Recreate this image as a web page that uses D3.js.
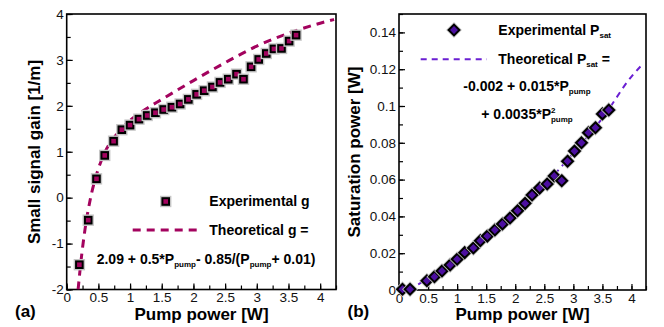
<!DOCTYPE html>
<html>
<head>
<meta charset="utf-8">
<script src="https://cdn.jsdelivr.net/npm/d3@7"></script>
<style>
  body { margin: 0; background: #fff; }
  svg { display: block; font-family: "Liberation Sans", Arial, sans-serif; }
</style>
</head>
<body>
<div id="chart-area"></div>
<script>
// (a) small signal gain
const pumpG = [0.20, 0.34, 0.47, 0.60, 0.74, 0.87, 1.00, 1.14, 1.27, 1.40, 1.53, 1.66, 1.79, 1.92,
               2.05, 2.17, 2.30, 2.42, 2.55, 2.68, 2.79, 2.91, 3.03, 3.15, 3.27, 3.39, 3.51, 3.62];
const gainExp = [-1.46, -0.49, 0.41, 0.92, 1.23, 1.48, 1.58, 1.71, 1.79, 1.85, 1.92, 1.97, 2.04, 2.14,
                 2.25, 2.33, 2.41, 2.51, 2.58, 2.69, 2.58, 2.85, 3.01, 3.14, 3.24, 3.25, 3.41, 3.54];
const pumpGFit = [0.18, 0.22, 0.29, 0.37, 0.47, 0.60, 0.80, 1.00, 1.25, 1.50, 2.00, 2.50, 3.00, 3.50, 4.00, 4.22];
const gainFit = [-2.0, -1.45, -0.68, -0.05, 0.50, 0.98, 1.40, 1.68, 1.93, 2.14, 2.55, 2.94, 3.30, 3.58, 3.80, 3.88];

// (b) saturation power
const pumpP = [0.06, 0.19, 0.48, 0.61, 0.74, 0.88, 1.00, 1.13, 1.28, 1.40, 1.52, 1.65, 1.78, 1.91,
               2.04, 2.17, 2.29, 2.42, 2.55, 2.67, 2.80, 2.90, 3.02, 3.14, 3.26, 3.38, 3.50, 3.61];
const psatExp = [0.0004, 0.0004, 0.0050, 0.0072, 0.0103, 0.0136, 0.0167, 0.0203, 0.0228, 0.0268, 0.0293, 0.0326, 0.0359, 0.0391,
                 0.0431, 0.0471, 0.0516, 0.0554, 0.0576, 0.0620, 0.0594, 0.0700, 0.0755, 0.0800, 0.0855, 0.0882, 0.0957, 0.0978];
const pumpPFit = [0.33, 0.50, 1.00, 1.50, 2.00, 2.50, 3.00, 3.50, 4.00, 4.17];
const psatFit = [0.003, 0.0064, 0.0165, 0.0304, 0.0420, 0.0569, 0.0745, 0.0934, 0.1160, 0.1220];

const xTicks = [0, 0.5, 1, 1.5, 2, 2.5, 3, 3.5, 4];
const gTicks = [-2, -1, 0, 1, 2, 3, 4];
const pTicks = [0, 0.02, 0.04, 0.06, 0.08, 0.1, 0.12, 0.14];

const gainColor = "#a3035e";
const psatColor = "#4c0fa0";
const psatLine = "#6a1fd2";

const width = 664, height = 327;

const svg = d3.select("#chart-area")
    .append("svg")
    .attr("width", width)
    .attr("height", height);

const xA = d3.scaleLinear().domain([0, 4.25]).range([66.7, 336]);
const yA = d3.scaleLinear().domain([-2, 4]).range([289.5, 14]);
const xB = d3.scaleLinear().domain([0, 4.25]).range([399, 646]);
const yB = d3.scaleLinear().domain([0, 0.15]).range([290, 14]);

function drawFrame(x, y, xMinor, yMinor, yMajor, yFmt, clipId) {
    const [x0, x1] = x.range();
    const [y0, y1] = y.range();

    svg.append("clipPath").attr("id", clipId)
        .append("rect")
        .attr("x", x0).attr("y", y1)
        .attr("width", x1 - x0).attr("height", y0 - y1);

    // minor ticks (no labels)
    svg.append("g")
        .attr("transform", `translate(0,${y0})`)
        .call(d3.axisBottom(x).tickValues(xMinor).tickSize(-4))
        .call(g => g.select(".domain").remove())
        .call(g => g.selectAll("text").remove());
    svg.append("g")
        .attr("transform", `translate(${x0},0)`)
        .call(d3.axisLeft(y).tickValues(yMinor).tickSize(-4))
        .call(g => g.select(".domain").remove())
        .call(g => g.selectAll("text").remove());

    // major ticks + labels
    svg.append("g")
        .attr("class", "tick-labels")
        .attr("transform", `translate(0,${y0})`)
        .call(d3.axisBottom(x).tickValues(xTicks).tickSize(-6).tickPadding(3).tickFormat(d => String(d)))
        .call(g => g.select(".domain").remove());
    svg.append("g")
        .attr("class", "tick-labels")
        .attr("transform", `translate(${x0},0)`)
        .call(d3.axisLeft(y).tickValues(yMajor).tickSize(-6).tickPadding(3).tickFormat(yFmt))
        .call(g => g.select(".domain").remove());

    svg.selectAll(".tick line").attr("stroke", "#000").attr("stroke-width", 1.2);

    svg.append("rect")
        .attr("x", x0).attr("y", y1)
        .attr("width", x1 - x0).attr("height", y0 - y1)
        .attr("fill", "none")
        .attr("stroke", "#000")
        .attr("stroke-width", 1.6);
}

const minorX = d3.range(0, 4.26, 0.25);
drawFrame(xA, yA, minorX, d3.range(-2, 4.01, 0.5), gTicks, d => String(d), "clipA");
drawFrame(xB, yB, minorX, d3.range(0, 0.1501, 0.01), pTicks, d => String(+d.toFixed(2)), "clipB");

svg.selectAll(".tick-labels text")
    .attr("font-size", "13.5px")
    .attr("font-family", "'Liberation Sans', Arial, sans-serif")
    .attr("fill", "#111");

// ---- panel (a) ----
const lineA = d3.line()
    .x(d => xA(d[0]))
    .y(d => yA(d[1]))
    .curve(d3.curveMonotoneX);

svg.append("path")
    .datum(pumpGFit.map((p, i) => [p, gainFit[i]]))
    .attr("clip-path", "url(#clipA)")
    .attr("d", lineA)
    .attr("fill", "none")
    .attr("stroke", gainColor)
    .attr("stroke-width", 3)
    .attr("stroke-dasharray", "8,6");

function square(sel, cx, cy) {
    sel.append("rect")
        .attr("x", cx - 4.4).attr("y", cy - 4.4)
        .attr("width", 8.8).attr("height", 8.8)
        .attr("fill", "none")
        .attr("stroke", "#c6c6c6")
        .attr("stroke-width", 2.6);
    sel.append("rect")
        .attr("x", cx - 3.3).attr("y", cy - 3.3)
        .attr("width", 6.6).attr("height", 6.6)
        .attr("fill", gainColor)
        .attr("stroke", "#000")
        .attr("stroke-width", 2);
}

const sq = svg.append("g");
pumpG.forEach((p, i) => square(sq, xA(p), yA(gainExp[i])));

// legend (a)
const bold = "bold";
square(svg.append("g"), 165.7, 201.5);
svg.append("text")
    .attr("x", 209.3).attr("y", 205.7)
    .attr("font-size", "14px").attr("font-weight", bold)
    .text("Experimental g");

svg.append("line")
    .attr("x1", 132.7).attr("x2", 200)
    .attr("y1", 230).attr("y2", 230)
    .attr("stroke", gainColor)
    .attr("stroke-width", 3)
    .attr("stroke-dasharray", "8,6");
svg.append("text")
    .attr("x", 209.3).attr("y", 234.5)
    .attr("font-size", "14px").attr("font-weight", bold)
    .text("Theoretical g =");

const fA = svg.append("text")
    .attr("x", 96.7).attr("y", 264)
    .attr("font-size", "14px").attr("font-weight", bold);
fA.append("tspan").text("2.09 + 0.5*P");
fA.append("tspan").attr("font-size", "8px").attr("dy", 3).text("pump");
fA.append("tspan").attr("dy", -3).text("- 0.85/(P");
fA.append("tspan").attr("font-size", "8px").attr("dy", 3).text("pump");
fA.append("tspan").attr("dy", -3).text("+ 0.01)");

// ---- panel (b) ----
svg.append("path")
    .datum(pumpPFit.map((p, i) => [p, psatFit[i]]))
    .attr("clip-path", "url(#clipB)")
    .attr("d", d3.line().x(d => xB(d[0])).y(d => yB(d[1])).curve(d3.curveMonotoneX))
    .attr("fill", "none")
    .attr("stroke", psatLine)
    .attr("stroke-width", 2)
    .attr("stroke-dasharray", "6,5");

function diamond(sel, cx, cy) {
    const r = 5.4;
    const pts = `${cx},${cy - r} ${cx + r},${cy} ${cx},${cy + r} ${cx - r},${cy}`;
    sel.append("polygon")
        .attr("points", pts)
        .attr("fill", "none")
        .attr("stroke", "#c6c6c6")
        .attr("stroke-width", 3.6);
    sel.append("polygon")
        .attr("points", pts)
        .attr("fill", psatColor)
        .attr("stroke", "#000")
        .attr("stroke-width", 2);
}

const dm = svg.append("g");
pumpP.forEach((p, i) => diamond(dm, xB(p), yB(psatExp[i])));

// legend (b)
diamond(svg.append("g"), 454, 30);
const eB = svg.append("text")
    .attr("x", 498.3).attr("y", 35)
    .attr("font-size", "14px").attr("font-weight", bold);
eB.append("tspan").text("Experimental P");
eB.append("tspan").attr("font-size", "8px").attr("dy", 3).text("sat");

svg.append("line")
    .attr("x1", 420.7).attr("x2", 487)
    .attr("y1", 59.3).attr("y2", 59.3)
    .attr("stroke", psatLine)
    .attr("stroke-width", 2)
    .attr("stroke-dasharray", "6,5");
const tB = svg.append("text")
    .attr("x", 498.3).attr("y", 64.3)
    .attr("font-size", "14px").attr("font-weight", bold);
tB.append("tspan").text("Theoretical P");
tB.append("tspan").attr("font-size", "8px").attr("dy", 3).text("sat");
tB.append("tspan").attr("dy", -3).text(" =");

const f1 = svg.append("text")
    .attr("x", 527).attr("y", 91)
    .attr("text-anchor", "middle")
    .attr("font-size", "14px").attr("font-weight", bold);
f1.append("tspan").text("-0.002 + 0.015*P");
f1.append("tspan").attr("font-size", "8px").attr("dy", 3).text("pump");

const f2 = svg.append("text")
    .attr("x", 527).attr("y", 119.3)
    .attr("text-anchor", "middle")
    .attr("font-size", "14px").attr("font-weight", bold);
f2.append("tspan").text("+ 0.0035*P");
f2.append("tspan").attr("font-size", "8px").attr("dy", -6).text("2");
f2.append("tspan").attr("font-size", "8px").attr("dx", -4.5).attr("dy", 9).text("pump");

// ---- axis titles ----
svg.append("text")
    .attr("x", 201.5).attr("y", 320)
    .attr("text-anchor", "middle")
    .attr("font-size", "17px").attr("font-weight", bold)
    .text("Pump power [W]");
svg.append("text")
    .attr("x", 522.5).attr("y", 320)
    .attr("text-anchor", "middle")
    .attr("font-size", "17px").attr("font-weight", bold)
    .text("Pump power [W]");

svg.append("text")
    .attr("transform", "rotate(-90)")
    .attr("x", -152).attr("y", 39.5)
    .attr("text-anchor", "middle")
    .attr("font-size", "17px").attr("font-weight", bold)
    .text("Small signal gain [1/m]");
svg.append("text")
    .attr("transform", "rotate(-90)")
    .attr("x", -152).attr("y", 359.5)
    .attr("text-anchor", "middle")
    .attr("font-size", "17px").attr("font-weight", bold)
    .text("Saturation power [W]");

svg.append("text")
    .attr("x", 15).attr("y", 316.5)
    .attr("font-size", "17px").attr("font-weight", bold)
    .text("(a)");
svg.append("text")
    .attr("x", 347.5).attr("y", 316.5)
    .attr("font-size", "17px").attr("font-weight", bold)
    .text("(b)");
</script>
</body>
</html>
